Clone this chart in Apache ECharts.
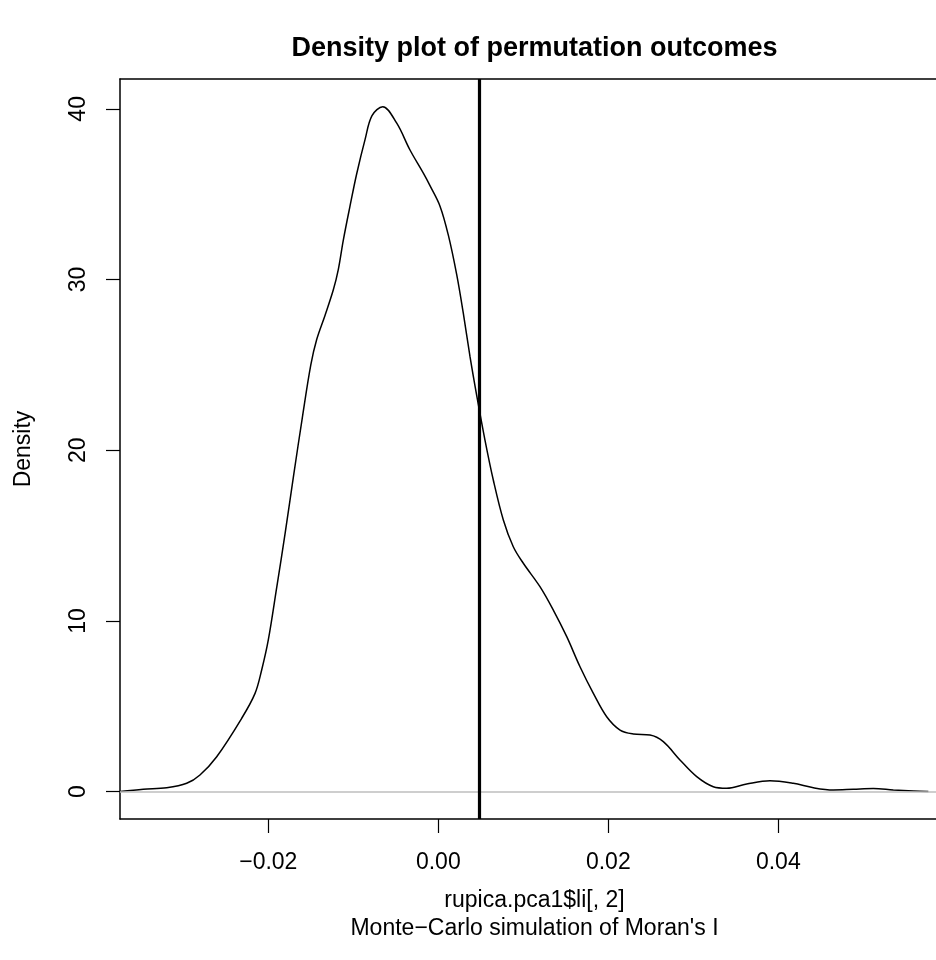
<!DOCTYPE html>
<html>
<head>
<meta charset="utf-8">
<title>Density plot of permutation outcomes</title>
<script src="https://cdn.jsdelivr.net/npm/echarts@6/dist/echarts.min.js"></script>
<style>
  html, body { margin: 0; padding: 0; background: #fff; }
  #chart { width: 936px; height: 960px; }
</style>
</head>
<body>
<div id="chart"></div>
<script>
// density curve
const densityX = [
  -0.03741, -0.03471, -0.03195, -0.02960, -0.02804, -0.02607, -0.02313, -0.02156,
  -0.02078, -0.02000, -0.01900, -0.01800, -0.01700, -0.01600, -0.01500, -0.01430,
  -0.01333, -0.01235, -0.01176, -0.01118, -0.01039, -0.00960, -0.00862, -0.00780,
  -0.00654, -0.00489, -0.00333, -0.00176, -0.00098, 0.00020, 0.00118, 0.00216,
  0.00294, 0.00373, 0.00452, 0.00549, 0.00647, 0.00765, 0.00882, 0.01000,
  0.01196, 0.01353, 0.01511, 0.01667, 0.01824, 0.01981, 0.02138, 0.02294,
  0.02491, 0.02647, 0.02843, 0.03040, 0.03235, 0.03393, 0.03628, 0.03902,
  0.04176, 0.04412, 0.04647, 0.04882, 0.05118, 0.05353, 0.05588, 0.05765
]
const densityY = [
  0.01, 0.14, 0.23, 0.49, 0.98, 2.05, 4.30, 5.76,
  7.13, 8.89, 12.0, 15.2, 18.6, 21.9, 25.0, 26.5,
  27.9, 29.4, 30.6, 32.3, 34.3, 36.2, 38.2, 39.6,
  40.13, 39.16, 37.59, 36.23, 35.5, 34.3, 32.6, 30.3,
  28.03, 25.48, 23.2, 20.6, 18.26, 15.92, 14.35, 13.38,
  12.01, 10.64, 9.08, 7.32, 5.76, 4.39, 3.61, 3.38,
  3.32, 2.93, 1.86, 0.88, 0.29, 0.20, 0.45, 0.64,
  0.49, 0.23, 0.10, 0.14, 0.18, 0.10, 0.04, 0.01
]
const observedValue = 0.00485
const xTicks = [-0.02, 0, 0.02, 0.04]
const xTickLabels = ['\u22120.02', '0.00', '0.02', '0.04']
const yTicks = [0, 10, 20, 30, 40]
const yTickLabels = ['0', '10', '20', '30', '40']

const font = '"Liberation Sans", Arial, Helvetica, sans-serif'
const chart = echarts.init(document.getElementById('chart'), null, { renderer: 'canvas' })

chart.setOption({
  animation: false,
  backgroundColor: '#ffffff',
  title: {
    text: 'Density plot of permutation outcomes',
    left: 534.5,
    top: 35,
    padding: 0,
    textAlign: 'center',
    textStyle: { fontFamily: font, fontSize: 27, fontWeight: 'bold', color: '#000' }
  },
  // plot region runs past the right edge of the picture, as in the original
  grid: { left: 120, width: 829, top: 79, bottom: 141, containLabel: false, outerBoundsMode: 'none' },
  xAxis: [
    {
      type: 'value',
      position: 'bottom',
      min: -0.037447,
      max: 0.06008,
      name: 'rupica.pca1$li[, 2]\nMonte\u2212Carlo simulation of Moran\'s I',
      nameLocation: 'middle',
      nameGap: 68,
      nameTextStyle: { fontFamily: font, fontSize: 23, color: '#000', lineHeight: 28 },
      splitLine: { show: false },
      axisLine: { show: true, onZero: false, lineStyle: { color: '#000', width: 1.5 } },
      axisTick: { show: true, inside: false, length: 14, customValues: xTicks, lineStyle: { color: '#000', width: 1.2 } },
      axisLabel: {
        show: true,
        customValues: xTicks,
        margin: 32,
        fontFamily: font,
        fontSize: 23,
        color: '#000',
        formatter: (v) => {
          const i = xTicks.findIndex((t) => Math.abs(t - v) < 1e-9)
          return i >= 0 ? xTickLabels[i] : ''
        }
      }
    },
    {
      type: 'value',
      position: 'top',
      min: -0.037447,
      max: 0.06008,
      splitLine: { show: false },
      axisLine: { show: true, onZero: false, lineStyle: { color: '#000', width: 1.5 } },
      axisTick: { show: false },
      axisLabel: { show: false }
    }
  ],
  yAxis: {
    type: 'value',
    min: -1.6,
    max: 41.75,
    name: 'Density',
    nameLocation: 'middle',
    nameGap: 85,
    nameRotate: 90,
    nameTextStyle: { fontFamily: font, fontSize: 23, color: '#000' },
    splitLine: { show: false },
    axisLine: { show: true, onZero: false, lineStyle: { color: '#000', width: 1.5 } },
    axisTick: { show: true, inside: false, length: 14, customValues: yTicks, lineStyle: { color: '#000', width: 1.2 } },
    axisLabel: {
      show: true,
      customValues: yTicks,
      rotate: 90,
      margin: 30,
      fontFamily: font,
      fontSize: 23,
      color: '#000',
      formatter: (v) => {
        const i = yTicks.indexOf(Math.round(v))
        return i >= 0 ? yTickLabels[i] : ''
      }
    }
  },
  series: [
    {
      type: 'line',
      xAxisIndex: 0,
      data: densityX.map((x, i) => [x, densityY[i]]),
      showSymbol: false,
      smooth: 0.35,
      lineStyle: { color: '#000', width: 1.5 },
      z: 3,
      markLine: {
        silent: true,
        symbol: 'none',
        precision: 6,
        animation: false,
        label: { show: false },
        data: [
          { yAxis: 0, lineStyle: { color: '#bebebe', width: 1.5, type: 'solid' } },
          { xAxis: observedValue, lineStyle: { color: '#000', width: 3.2, type: 'solid' } }
        ]
      }
    }
  ]
})
</script>
</body>
</html>
